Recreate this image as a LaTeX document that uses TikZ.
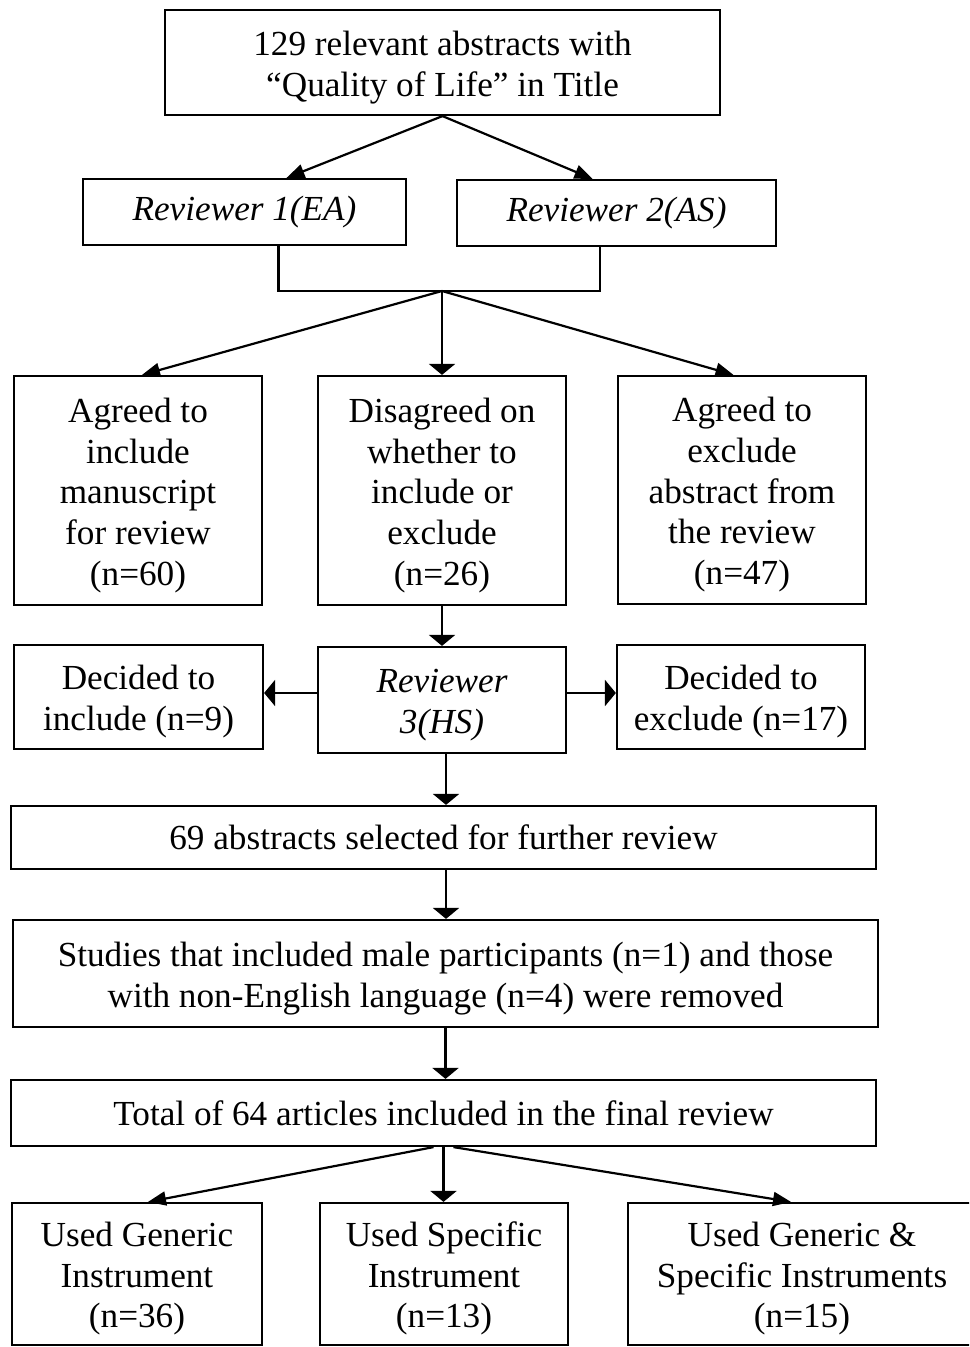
\documentclass[tikz,border=0pt]{standalone}
\usepackage{fontspec}
\setmainfont{Liberation Serif}
\usetikzlibrary{arrows.meta}
\newcommand\tst{\rule{0pt}{17pt}}
\begin{document}
\begin{tikzpicture}[x=0.5pt,y=-0.5pt,
  box/.style={draw, line width=1.1pt, align=center, inner sep=0pt,
    font=\fontsize{17.6}{20.35}\selectfont},
  ibox/.style={box, font=\fontsize{17.6}{20.35}\selectfont\itshape},
  arr/.style={line width=1.1pt, -{Triangle[length=5.5pt,width=13pt]}},
  darr/.style={line width=1.1pt, -{Triangle[length=9pt,width=7pt]}},
  ln/.style={line width=1.1pt}]
\clip (0,0) rectangle (969,1347);
\fill[white] (0,0) rectangle (969,1347);

% top
\node[box, minimum width=277.5pt, minimum height=52.5pt] (top) at (442.5,62.5)
  {\tst 129 relevant abstracts with\\“Quality of Life” in Title};
\node[ibox, minimum width=161.5pt, minimum height=33pt] (r1) at (244.5,212) {Reviewer 1(EA)};
\node[ibox, minimum width=159.5pt, minimum height=33pt] (r2) at (616.5,213) {Reviewer 2(AS)};

% row 3
\node[box, minimum width=124pt, minimum height=114.5pt] (a1) at (138,490.5)
  {\tst Agreed to\\include\\manuscript\\for review\\(n=60)};
\node[box, minimum width=124pt, minimum height=114.5pt] (a2) at (442,490.5)
  {\tst Disagreed on\\whether to\\include or\\exclude\\(n=26)};
\node[box, minimum width=124pt, minimum height=114pt] (a3) at (742,490)
  {\tst Agreed to\\exclude\\abstract from\\the review\\(n=47)};

% row 4
\node[box, minimum width=124.5pt, minimum height=52pt] (d1) at (138.5,697)
  {\tst Decided to\\include (n=9)};
\node[ibox, minimum width=124pt, minimum height=53pt] (r3) at (442,700)
  {\tst Reviewer\\3(HS)};
\node[box, minimum width=124pt, minimum height=52pt] (d2) at (741,697)
  {\tst Decided to\\exclude (n=17)};

% long boxes
\node[box, minimum width=432.5pt, minimum height=31.5pt] (s69) at (443.5,837.5)
  {69 abstracts selected for further review};
\node[box, minimum width=432.5pt, minimum height=53.5pt] (rem) at (445.5,973.5)
  {\tst Studies that included male participants (n=1) and those\\with non-English language (n=4) were removed};
\node[box, minimum width=432.5pt, minimum height=33pt] (tot) at (443.5,1113)
  {Total of 64 articles included in the final review};

% bottom
\node[box, minimum width=125pt, minimum height=71pt] (b1) at (137,1274)
  {\tst Used Generic\\Instrument\\(n=36)};
\node[box, minimum width=124pt, minimum height=71pt] (b2) at (444,1274)
  {\tst Used Specific\\Instrument\\(n=13)};
\node[box, minimum width=174pt, minimum height=71pt] (b3) at (802,1274)
  {\tst Used Generic \&\\Specific Instruments\\(n=15)};

% connectors top
\draw[darr] (top.south) -- ([xshift=21pt]r1.north);
\draw[darr] (top.south) -- ([xshift=-12pt]r2.north);

% merge
\coordinate (m) at (442,291);
\draw[ln] ([xshift=17pt]r1.south) |- (m) -| ([xshift=-8.25pt]r2.south);
\draw[darr] (m) -- ([xshift=2pt]a1.north);
\draw[arr] (m) -- (a2.north);
\draw[darr] (m) -- ([xshift=-4.25pt]a3.north);

% reviewer 3
\draw[arr] (a2.south) -- (r3.north);
\draw[arr] ([yshift=3.5pt]r3.west) -- ([yshift=3.5pt]r3.west -| d1.east);
\draw[arr] ([yshift=3.5pt]r3.east) -- ([yshift=3.5pt]r3.east -| d2.west);
\draw[arr] ([xshift=2pt]r3.south) -- ([xshift=2pt]r3.south |- s69.north);
\draw[arr] ([xshift=1.25pt]s69.south) -- ([xshift=1.25pt]s69.south |- rem.north);
\draw[arr] (rem.south) -- (rem.south |- tot.north);

% bottom arrows
\draw[darr] ([xshift=-5pt]tot.south) -- ([xshift=5.5pt]b1.north);
\draw[arr] (tot.south) -- (tot.south |- b2.north);
\draw[darr] ([xshift=5pt]tot.south) -- ([xshift=-5.5pt]b3.north);
\end{tikzpicture}
\end{document}
